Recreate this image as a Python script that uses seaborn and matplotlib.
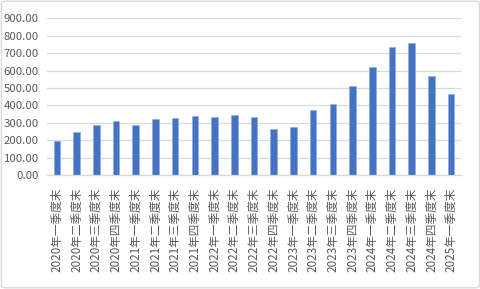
import matplotlib
matplotlib.use("Agg")
import matplotlib.pyplot as plt
import seaborn as sns
import pandas as pd
from matplotlib.patches import FancyBboxPatch

categories = [
    "2020年一季度末", "2020年二季度末", "2020年三季度末", "2020年四季度末",
    "2021年一季度末", "2021年二季度末", "2021年三季度末", "2021年四季度末",
    "2022年一季度末", "2022年二季度末", "2022年三季度末", "2022年四季度末",
    "2023年一季度末", "2023年二季度末", "2023年三季度末", "2023年四季度末",
    "2024年一季度末", "2024年二季度末", "2024年三季度末", "2024年四季度末",
    "2025年一季度末",
]
values = [195, 245, 285, 308, 290, 319, 325, 337, 331, 342,
          331, 262, 273, 371, 405, 512, 621, 734, 759, 569, 463]
yticks = [0, 100, 200, 300, 400, 500, 600, 700, 800, 900]

sns.set_theme(style="white")
plt.rcParams['font.family'] = ['Noto Sans CJK SC', 'DejaVu Sans']

df = pd.DataFrame({"cat": categories, "val": values})

fig = plt.figure(figsize=(4.81, 2.89), dpi=100)
ax = fig.add_axes([47/481, 1 - 175/289, (461 - 47)/481, (175 - 18.3)/289])

sns.barplot(data=df, x="cat", y="val", ax=ax, color="#4472C4",
            width=0.33, saturation=1, edgecolor="#8FAADC", linewidth=0.4)

ax.set_ylim(0, 900)
ax.set_xlim(-0.5, len(categories) - 0.5)
ax.set_yticks(yticks)
ax.set_yticklabels([f"{v:.2f}" for v in yticks])
ax.yaxis.grid(True, color="#D9D9D9", linewidth=0.9)
ax.set_axisbelow(True)
for s in ["top", "right", "left"]:
    ax.spines[s].set_visible(False)
ax.spines["bottom"].set_color("#D9D9D9")
ax.spines["bottom"].set_linewidth(0.9)
ax.set_xlabel("")
ax.set_ylabel("")
ax.tick_params(axis="y", length=0, pad=6, labelsize=8.2, labelcolor="#595959")
ax.tick_params(axis="x", length=0, pad=9, labelsize=8.4, labelcolor="#595959")
for lab in ax.get_xticklabels():
    lab.set_rotation(90)
    lab.set_va("top")
    lab.set_ha("center")

border = FancyBboxPatch((0.003, 0.004), 0.994, 0.992, boxstyle="round,pad=0,rounding_size=0.01",
                        transform=fig.transFigure, fill=False, edgecolor="#D9D9D9", linewidth=1)
fig.patches.append(border)

fig.savefig("out.png", dpi=100)
